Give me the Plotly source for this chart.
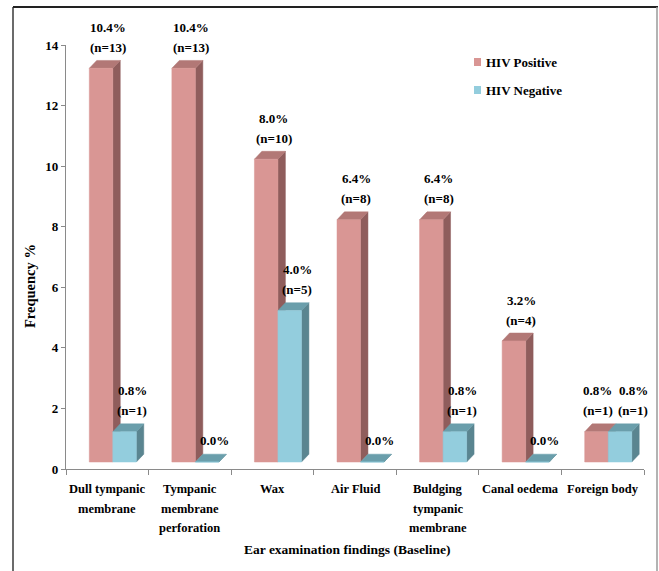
import plotly.graph_objects as go

# ---- data -------------------------------------------------------------
category_lines = [
    ["Dull tympanic", "membrane"],
    ["Tympanic", "membrane", "perforation"],
    ["Wax"],
    ["Air Fluid"],
    ["Buldging", "tympanic", "membrane"],
    ["Canal oedema"],
    ["Foreign body"],
]
series_names = ["HIV Positive", "HIV Negative"]
positive_n = [13, 13, 10, 8, 8, 4, 1]
negative_n = [1, 0, 5, 0, 1, 0, 1]
positive_pct = [10.4, 10.4, 8.0, 6.4, 6.4, 3.2, 0.8]
negative_pct = [0.8, 0.0, 4.0, 0.0, 0.8, 0.0, 0.8]
y_ticks = [0, 2, 4, 6, 8, 10, 12, 14]
x_title = "Ear examination findings (Baseline)"
y_title = "Frequency %"

# ---- styling ----------------------------------------------------------
FONT = "Liberation Serif, Times New Roman, serif"
W, H = 659, 571
L, R, T, B = 66, 15, 45, 102
AXIS_GREY = "#8a8a8a"

face_colors = [
    dict(front="#D99694", top="#B27876", side="#8F5D5C"),   # positive
    dict(front="#93CDDD", top="#6A9EAB", side="#5A8590"),   # negative
]
bar_left = [-0.218, 0.067]   # left edge of front face, relative to category
BAR_W = 0.285
DX, DY = 0.09, 0.26          # 3-D depth offset (x units, y units)
FLOOR = 0.23                 # front plane sits slightly above the back floor
label_xshift = [[0, 0, 0, 0, 0, 0, -6], [0, 0, 0, 0, 0, 0, 6]]

values = [positive_n, negative_n]
pcts = [positive_pct, negative_pct]


def px_x(p):
    return (p - L) / (W - L - R)


def px_y(p):
    return (H - B - p) / (H - T - B)


def faces(series):
    front_x, front_y, top_x, top_y, side_x, side_y = [], [], [], [], [], []
    for i, v in enumerate(values[series]):
        x0 = i + bar_left[series]
        x1 = x0 + BAR_W
        y0 = FLOOR
        y1 = FLOOR + v
        front_x += [x0, x1, x1, x0, x0, None]
        front_y += [y0, y0, y1, y1, y0, None]
        top_x += [x0, x1, x1 + DX, x0 + DX, x0, None]
        top_y += [y1, y1, y1 + DY, y1 + DY, y1, None]
        side_x += [x1, x1 + DX, x1 + DX, x1, x1, None]
        side_y += [y0, y0 + DY, y1 + DY, y1, y0, None]
    return (front_x, front_y), (top_x, top_y), (side_x, side_y)


fig = go.Figure()
for s in range(2):
    (fx, fy), (tx, ty), (sx, sy) = faces(s)
    c = face_colors[s]
    for (xx, yy, col) in [(sx, sy, c["side"]), (tx, ty, c["top"]), (fx, fy, c["front"])]:
        fig.add_trace(go.Scatter(
            x=xx, y=yy, mode="lines", fill="toself", fillcolor=col,
            line=dict(color=col, width=0.5), hoverinfo="skip",
            showlegend=False, name=series_names[s],
        ))

annotations = []
bold = dict(family=FONT, size=12, color="black", weight="bold")
bold13 = dict(family=FONT, size=13, color="black", weight="bold")

# value labels above each bar
for s in range(2):
    for i, v in enumerate(values[s]):
        xc = i + bar_left[s] + BAR_W / 2 + DX
        ytop = FLOOR + v + DY
        pct_text = f"{pcts[s][i]:.1f}%"
        if v == 0:
            annotations.append(dict(x=xc, y=ytop, xref="x", yref="y", text=pct_text,
                                    showarrow=False, yshift=14, xshift=label_xshift[s][i],
                                    font=bold13, yanchor="middle"))
        else:
            annotations.append(dict(x=xc, y=ytop, xref="x", yref="y", text=f"(n={v})",
                                    showarrow=False, yshift=13, xshift=label_xshift[s][i],
                                    font=bold13, yanchor="middle"))
            annotations.append(dict(x=xc, y=ytop, xref="x", yref="y", text=pct_text,
                                    showarrow=False, yshift=33, xshift=label_xshift[s][i],
                                    font=bold13, yanchor="middle"))

# category labels under the x axis
for i, lines in enumerate(category_lines):
    for k, line in enumerate(lines):
        annotations.append(dict(x=i, y=px_y(489 + 19.5 * k), xref="x", yref="paper",
                                text=line, showarrow=False,
                                font=dict(family=FONT, size=12.5, color="black", weight="bold"),
                                yanchor="middle"))

# axis titles
annotations.append(dict(x=px_x(347), y=px_y(549), xref="paper", yref="paper", text=x_title,
                        showarrow=False, font=dict(family=FONT, size=13.5, color="black", weight="bold"),
                        yanchor="middle"))
annotations.append(dict(x=px_x(30), y=px_y(286), xref="paper", yref="paper", text=y_title,
                        showarrow=False, textangle=-90,
                        font=dict(family=FONT, size=14.5, color="black", weight="bold"),
                        xanchor="center", yanchor="middle"))

# legend
shapes = []
legend_y = [62, 90]
for s in range(2):
    shapes.append(dict(type="rect", xref="paper", yref="paper",
                       x0=px_x(474), x1=px_x(481), y0=px_y(legend_y[s] - 4), y1=px_y(legend_y[s] + 4),
                       fillcolor=face_colors[s]["front"], line=dict(width=0)))
    annotations.append(dict(x=px_x(484), y=px_y(legend_y[s]), xref="paper", yref="paper",
                            text=series_names[s], showarrow=False, font=bold13,
                            xanchor="left", yanchor="middle"))

# outer frame
shapes.append(dict(type="line", xref="paper", yref="paper", x0=px_x(13), x1=px_x(13),
                   y0=px_y(7), y1=px_y(580), line=dict(color="#3a3a3a", width=1.5)))
shapes.append(dict(type="line", xref="paper", yref="paper", x0=px_x(13), x1=px_x(658),
                   y0=px_y(7), y1=px_y(7), line=dict(color="#222222", width=2)))
shapes.append(dict(type="line", xref="paper", yref="paper", x0=px_x(657), x1=px_x(657),
                   y0=px_y(7), y1=px_y(580), line=dict(color="#9a9a9a", width=1.5)))

fig.update_layout(
    width=W, height=H, autosize=False,
    margin=dict(l=L, r=R, t=T, b=B, pad=0),
    paper_bgcolor="white", plot_bgcolor="white",
    showlegend=False,
    annotations=annotations, shapes=shapes,
    xaxis=dict(range=[-0.5, 6.5], tickvals=list(range(7)), showticklabels=False, ticks="",
               showline=True, linecolor=AXIS_GREY, linewidth=1.2, showgrid=False, zeroline=False,
               minor=dict(tickvals=[i - 0.5 for i in range(8)], ticks="outside", ticklen=5,
                          tickcolor=AXIS_GREY, tickwidth=1, showgrid=False)),
    yaxis=dict(range=[0, 14], tickvals=y_ticks, ticks="outside", ticklen=4, tickcolor=AXIS_GREY,
               showline=True, linecolor=AXIS_GREY, linewidth=1.2, showgrid=False, zeroline=False,
               tickfont=bold13),
)

fig.write_html("out.html")
